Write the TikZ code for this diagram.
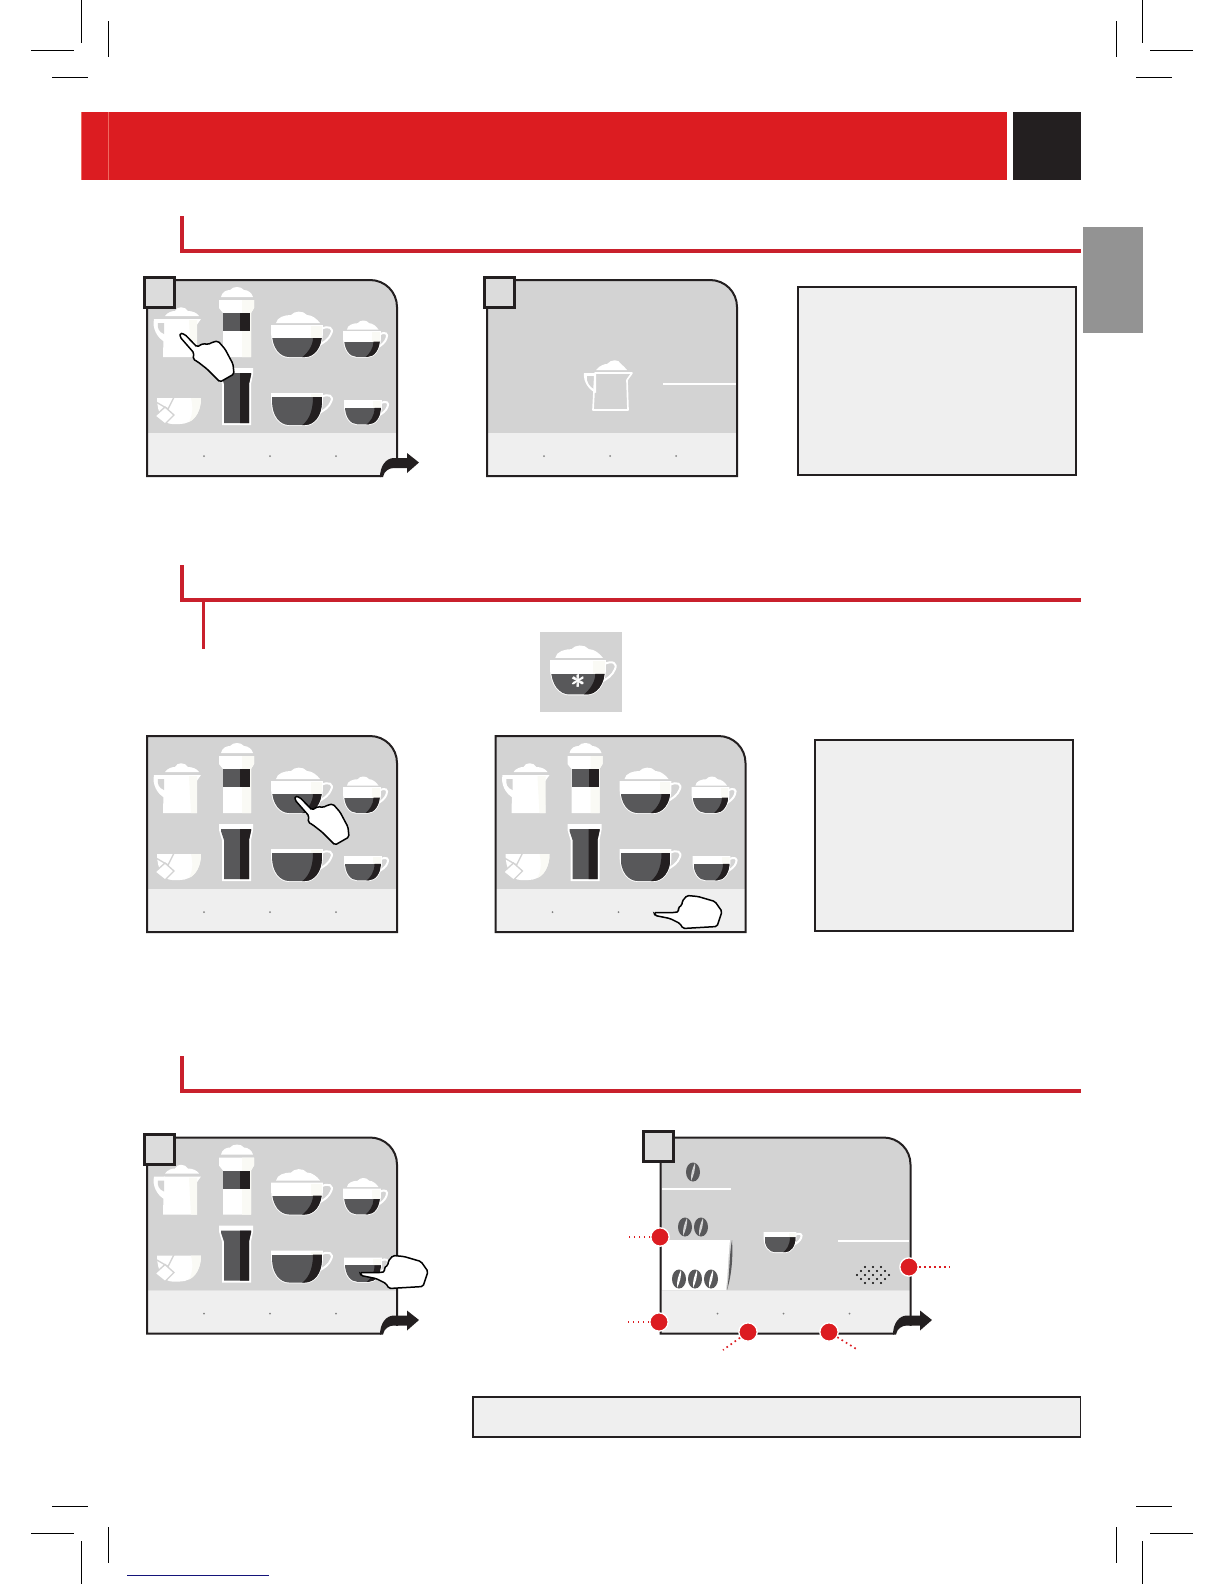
\documentclass[tikz,border=0pt]{standalone}
\usepackage{amsmath,amssymb}
\usepackage{tikz}
\usetikzlibrary{arrows.meta, positioning, calc}
\definecolor{headerred}{HTML}{DC1C21}
\definecolor{stripered}{HTML}{EE6A60}
\definecolor{rulered}{HTML}{C9202C}
\definecolor{inkblack}{HTML}{231F20}
\definecolor{tabgrey}{HTML}{939393}
\definecolor{screengrey}{HTML}{D3D3D3}
\definecolor{bandgrey}{HTML}{EFEFEF}
\definecolor{coffee}{HTML}{58585A}
\definecolor{creamwhite}{HTML}{FAFAF5}
\definecolor{footblue}{HTML}{14147A}
\newcommand{\cupshape}{(-25,0) -- (25,0) -- (25,7) .. controls (25,22) and (17,31) .. (8,31) -- (-8,31) .. controls (-17,31) and (-25,22) .. (-25,7) -- cycle}
\tikzset{
    cropmark/.style={black, line width=0.6pt},
    sectionrule/.style={rulered, line width=2.4pt},
    notebox/.style={draw=inkblack, fill=bandgrey, line width=1.1pt},
    tagbox/.style={rectangle, draw=inkblack, fill=screengrey!80!white, line width=1.6pt, minimum size=18pt, inner sep=0pt},
    reddot/.style={circle, fill=headerred, draw=white, line width=0.8pt, minimum size=11pt, inner sep=0pt},
    leader/.style={headerred, line width=1pt, dash pattern=on 1pt off 2pt},
    whiteline/.style={white, line width=1pt},
    pics/screen/.style={code={
        \fill[screengrey] (0,0) -- (223,0) .. controls (238,0) and (250,12) .. (250,27) -- (250,153) -- (0,153) -- cycle;
        \fill[bandgrey] (0,153) rectangle (250,196);
        \draw[inkblack, line width=1.2pt] (0,0) -- (223,0) .. controls (238,0) and (250,12) .. (250,27) -- (250,196) -- (0,196) -- cycle;
        \foreach \dx in {57,123,189} {
            \fill[black!50] (\dx,176) circle (1);
        }
    }},
    pics/cup/.style={code={
        \draw[white, line width=1.2pt] (24,3) .. controls (32,-1) and (37,2) .. (34,8) .. controls (32,13) and (27,17) .. (20,20);
        \fill[white] \cupshape;
        \draw[white, line width=1.1pt] \cupshape;
        \begin{scope}
            \clip \cupshape;
            \fill[creamwhite] (14,0) rectangle (25,#1);
            \fill[coffee] (-25,#1) rectangle (25,32);
            \fill[inkblack] (16,#1) .. controls (16,20) and (10,28) .. (4,32) -- (25,32) -- (25,#1) -- cycle;
        \end{scope}
    }},
    pics/foamcup/.style={code={
        \pic[transform shape] {cup=12};
        \fill[white] (-21,-3) .. controls (-20,-9) and (-12,-11) .. (-6,-11) .. controls (-3,-15) and (6,-16) .. (10,-11) .. controls (15,-11) and (20,-7) .. (23,-3) -- cycle;
    }},
    pics/pointhand/.style={code={
        \draw[black, fill=white, line width=0.9pt, rounded corners=1pt] (0,0) -- (5,1.5) -- (17,14) -- (23,10.5) -- (28,11.5) -- (33,9) -- (38,8) -- (45,16) -- (53,31) -- (54,41) -- (40,49) -- (27,36) -- (18,29) -- (13,26) -- (14,20) -- (7,12) -- (0,4) -- cycle;
    }},
    pics/sidehand/.style={code={
        \draw[black, fill=white, line width=0.9pt, rounded corners=1pt] (0,0) -- (21,0) -- (25,-1) -- (24,-5) -- (28,-7) -- (28,-11) -- (33,-17) -- (44,-16) -- (61,-11) -- (68,-1) -- (63,14) -- (29,16) -- (26,11) -- (16,6) -- (1,3) -- cycle;
    }},
    pics/turnarrow/.style={code={
        \fill[white] (1,2) rectangle (19,-8);
        \fill[inkblack] (0,1) .. controls (0,-10) and (6,-18) .. (14,-18) -- (27,-18) -- (27,-23) -- (39,-13.5) -- (27,-3) -- (27,-8) -- (14,-8) .. controls (9,-8) and (4,-5) .. (3,1) -- cycle;
    }},
    pics/bean/.style={code={
        \fill[coffee] (0,0) ellipse (7 and 9.5);
        \fill[#1] (2,-9) .. controls (-1,-3) and (-2.5,3) .. (-2,9) .. controls (1,3) and (2.5,-3) .. (2,-9) -- cycle;
    }},
    % the eight drinks on a menu screen
    pics/menu/.style={code={
        % jug
        \fill[white] (17,39) -- (54,39) -- (49,46) -- (50,77) -- (16,77) -- cycle;
        \fill[white] (7,39) -- (18,39) -- (18,62) .. controls (10,58) and (5,48) .. (7,39) -- cycle;
        \fill[screengrey] (11,43) -- (17,43) -- (17,54) .. controls (12,52) and (10,48) .. (11,43) -- cycle;
        \fill[creamwhite] (42,40) -- (50,40) -- (50,77) -- (44,77) -- cycle;
        \fill[white] (18,36) .. controls (21,32) and (25,31) .. (28,31) .. controls (30,26) and (38,26) .. (41,31) .. controls (46,31) and (50,33) .. (52,36) -- cycle;
        % tall glass with foam
        \fill[white] (72,20) -- (107,20) -- (107,28) -- (104,33) -- (104,77) -- (76,77) -- (76,33) -- (72,28) -- cycle;
        \fill[creamwhite] (95,20) -- (107,20) -- (107,28) -- (104,33) -- (104,77) -- (95,77) -- cycle;
        \fill[coffee] (76,33) rectangle (103,51);
        \fill[inkblack] (93,33) rectangle (103,51);
        \fill[white] (74,17) .. controls (75,12) and (79,10) .. (83,10) .. controls (86,6) and (94,6) .. (97,10) .. controls (101,10) and (105,13) .. (106,17) -- cycle;
        % tall glass of coffee
        \fill[white] (72,88) -- (106,88) -- (106,94) -- (104,104) -- (104,145) -- (75,145) -- (75,104) -- (72,94) -- cycle;
        \fill[coffee] (74,93) -- (104,93) -- (104,95) -- (102,104) -- (102,143) -- (77,143) -- (77,104) -- (74,95) -- cycle;
        \fill[inkblack] (93,93) -- (104,93) -- (104,95) -- (102,104) -- (102,143) -- (93,143) -- cycle;
        % cups
        \pic at (150,46) {foamcup};
        \pic[xscale=0.72, yscale=0.8] at (215,52) {foamcup};
        \pic at (150,114) {cup=3};
        \pic[xscale=0.72, yscale=0.75] at (216,121) {cup=9};
        % bowl with sugar cube
        \fill[white] (10,118) -- (54,118) .. controls (54,134) and (45,144) .. (33,144) -- (25,144) .. controls (17,144) and (10,134) .. (10,118) -- cycle;
        \fill[creamwhite] (44,118) -- (54,118) .. controls (54,130) and (49,139) .. (42,142) .. controls (46,135) and (46,126) .. (44,118) -- cycle;
        \draw[screengrey, line width=0.8pt] (9,122) -- (21,129) -- (27,117);
        \draw[screengrey, fill=white, line width=0.8pt] (8,136) -- (18,127) -- (27,135) -- (18,144) -- cycle;
    }},
}

\begin{document}
\begin{tikzpicture}[x=0.6pt, y=-0.6pt]
    \useasboundingbox (0,0) rectangle (1224,1584);
    % crop marks
    \foreach \xa/\xb/\xc/\xd in {81.5/108/31/74,1142.5/1116/1193/1150} {
        \draw[cropmark] (\xa,0) -- (\xa,43);
        \draw[cropmark] (\xb,21) -- (\xb,57);
        \draw[cropmark] (\xc,50) -- (\xd,50);
        \draw[cropmark] (\xa,1541) -- (\xa,1584);
        \draw[cropmark] (\xb,1527) -- (\xb,1563);
        \draw[cropmark] (\xc,1533) -- (\xd,1533);
    }
    \draw[cropmark] (52,77) -- (88,77);
    \draw[cropmark] (1136,77) -- (1172,77);
    \draw[cropmark] (52,1506) -- (88,1506);
    \draw[cropmark] (1136,1506) -- (1172,1506);
    \draw[footblue, line width=0.6pt] (127,1575) -- (269,1575);

    % header
    \fill[headerred] (81,112) rectangle (1007,180);
    \draw[stripered, line width=0.5pt] (81.3,112) -- (81.3,180);
    \draw[stripered, line width=0.5pt] (108.5,112) -- (108.5,180);
    \fill[inkblack] (1013,112) rectangle (1081,180);
    \fill[tabgrey] (1083,227) rectangle (1143,333);

    % section rules
    \foreach \ytop/\yrule in {216/251,565/600,1056/1091} {
        \draw[sectionrule] (182,\ytop) -- (182,\yrule) -- (1081,\yrule);
    }
    \draw[rulered, line width=1.8pt] (203.5,600) -- (203.5,649);

    % screens with the drinks menu
    \foreach \sx/\sy in {147/280,147/736,495.5/736,147/1137.5} {
        \pic at (\sx,\sy) {screen};
        \pic at (\sx,\sy) {menu};
    }
    \pic at (487,280) {screen};
    \pic at (660.5,1137.5) {screen};

    % jug on its own
    \begin{scope}[shift={(487,280)}]
        \fill[white] (97,93) -- (109,93) -- (109,113) .. controls (102,110) and (96,102) .. (97,93) -- cycle;
        \fill[screengrey] (100,96) -- (107,96) -- (107,109) .. controls (103,107) and (99,102) .. (100,96) -- cycle;
        \draw[whiteline, line join=round] (108,93) -- (145,93) -- (140,100) -- (141,130) -- (106,130) -- cycle;
        \fill[white] (109,90) .. controls (113,85) and (118,84) .. (120,84) .. controls (124,79) and (132,79) .. (134,84) .. controls (136,85) and (138,88) .. (140,90) -- cycle;
        \draw[whiteline] (176,104) -- (249,104);
    \end{scope}

    % one-shot screen
    \draw[whiteline] (662,1189) -- (731,1189);
    \draw[whiteline] (838,1241) -- (909,1241);
    \fill[white] (662,1240) -- (730,1240) .. controls (728,1258) and (728,1272) .. (726,1290) -- (662,1290) -- cycle;
    \fill[coffee] (727,1290) .. controls (730,1272) and (729,1256) .. (732,1240) .. controls (733,1256) and (732,1274) .. (727,1290) -- cycle;
    \pic at (693,1172) {bean=screengrey};
    \pic at (685,1227) {bean=screengrey};
    \pic at (701,1227) {bean=screengrey};
    \foreach \bx in {679,695,711} {
        \pic at (\bx,1279) {bean=white};
    }
    \pic[scale=0.62] at (780,1233) {cup=7};
    \foreach \dx/\dy in {-8/-8,0/-8,8/-8,-12/-4,-4/-4,4/-4,12/-4,-16/0,-8/0,0/0,8/0,16/0,-12/4,-4/4,4/4,12/4,-8/8,0/8,8/8} {
        \fill[black] (873+\dx,1275+\dy) circle (1.1);
    }

    % hands
    \pic at (180,333) {pointhand};
    \pic at (295,796) {pointhand};
    \pic at (654,912.5) {sidehand};
    \pic at (360,1272.5) {sidehand};

    % arrows
    \pic at (380,476) {turnarrow};
    \pic at (380,1333.5) {turnarrow};
    \pic at (893,1333.5) {turnarrow};

    % numbered tags
    \node[tagbox] (tagA) at (159.5,292.5) {};
    \node[tagbox] (tagB) at (499.5,292.5) {};
    \node[tagbox] (tagC) at (159.5,1149.5) {};
    \node[tagbox] (tagD) at (658.5,1146.5) {};

    % note boxes
    \draw[notebox] (798,287) rectangle (1076,475);
    \draw[notebox] (815,740) rectangle (1073,931);
    \draw[notebox] (473,1397) rectangle (1080.5,1437);

    % favourite drink tile
    \fill[screengrey] (540,632) rectangle (622,712);
    \pic[scale=1.08] at (578,661) {foamcup};
    \node[white, font=\LARGE] (star) at (579,681) {$\pmb{\ast}$};

    % callouts
    \node[reddot] (dotA) at (660,1237) {};
    \node[reddot] (dotB) at (659,1322) {};
    \node[reddot] (dotC) at (748,1332) {};
    \node[reddot] (dotD) at (829,1332) {};
    \node[reddot] (dotE) at (909,1267) {};
    \coordinate (endA) at (628,1237);
    \coordinate (endB) at (625,1322);
    \coordinate (endC) at (723,1350);
    \coordinate (endD) at (858,1350);
    \coordinate (endE) at (950,1267);
    \foreach \n in {A,B,C,D,E} {
        \draw[leader] (dot\n) -- (end\n);
    }
\end{tikzpicture}
\end{document}
